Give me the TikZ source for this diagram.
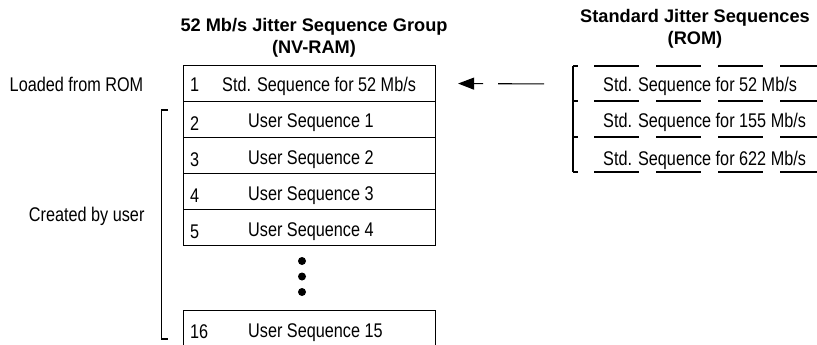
\documentclass[tikz,border=0pt]{standalone}
\usepackage{fontspec}
\setmainfont{Liberation Sans}
\newfontfamily\narrowfont[FakeStretch=0.82]{Liberation Sans}
\usetikzlibrary{arrows.meta}
\begin{document}
\begin{tikzpicture}[x=1pt,y=-1pt,
  cell/.style={draw, line width=1.1pt, minimum width=252pt, minimum height=36pt,
               inner sep=0pt, anchor=north west},
  romrow/.style={minimum width=244pt, minimum height=35.5pt, inner sep=0pt, anchor=north west},
  body/.style={font=\narrowfont\fontsize{19.8}{22}\selectfont, inner sep=0pt, anchor=base west},
  side/.style={font=\narrowfont\fontsize{19.8}{22}\selectfont, inner sep=0pt, anchor=base},
  heading/.style={font=\bfseries\fontsize{18.2}{22}\selectfont, inner sep=0pt, anchor=base},
  romline/.style={line width=1.1pt, dash pattern=on 45pt off 17pt},
  thin/.style={line width=1.1pt},
  loadarrow/.style={line width=1.1pt, dash pattern=on 46pt off 15pt,
                    -{Triangle[length=16pt,width=12pt]}}
]
\clip (0,0) rectangle (817,345);

% headings
\node[heading] (ghead1) at (314,32) {52 Mb/s Jitter Sequence Group};
\node[heading] (ghead2) at (314,54) {(NV-RAM)};
\node[heading] (rhead1) at (695,23) {Standard Jitter Sequences};
\node[heading] (rhead2) at (695,45) {(ROM)};

% NV-RAM sequence group
\node[cell] (r1) at (183,65) {};
\node[cell] (r2) at (183,101) {};
\node[cell] (r3) at (183,137) {};
\node[cell] (r4) at (183,173) {};
\node[cell] (r5) at (183,209) {};
\node[cell] (r16) at (183,310) {};

\node[body] (n1) at (190,92) {1};
\node[body] (s1) at (222,92) {Std. Sequence for 52 Mb/s};
\node[body] (n2) at (190,130) {2};
\node[body] (s2) at (248,128) {User Sequence 1};
\node[body] (n3) at (190,166) {3};
\node[body] (s3) at (248,164) {User Sequence 2};
\node[body] (n4) at (190,202) {4};
\node[body] (s4) at (248,200) {User Sequence 3};
\node[body] (n5) at (190,238) {5};
\node[body] (s5) at (248,236) {User Sequence 4};
\node[body] (n16) at (190,338.5) {16};
\node[body] (s16) at (248,337) {User Sequence 15};

% ellipsis dots
\fill (302,261) circle (4);
\fill (302,276.5) circle (4);
\fill (302,292) circle (4);

% side labels and bracket
\node[side] (lrom) at (76.5,92) {Loaded from ROM};
\node[side] (luser) at (86.7,221) {Created by user};
\draw[thin] (168,110) -- (161.7,110) -- (161.7,339) -- (168,339);

% ROM table
\node[romrow] (rom1) at (573,66) {};
\node[romrow] (rom2) at (573,101) {};
\node[romrow] (rom3) at (573,137) {};
\draw[thin] (573,66) -- (573,172);
\foreach \yy in {66,101,137,172}{
  \draw[thin] (573,\yy) -- (578,\yy);
  \draw[romline] (594,\yy) -- (840,\yy);
}
\node[body] (t1) at (603,92) {Std. Sequence for 52 Mb/s};
\node[body] (t2) at (603,128) {Std. Sequence for 155 Mb/s};
\node[body] (t3) at (603,165) {Std. Sequence for 622 Mb/s};

% copy from ROM into the group
\draw[loadarrow] ([xshift=-29pt]rom1.west) -- ([xshift=22pt]r1.east);
\end{tikzpicture}
\end{document}
